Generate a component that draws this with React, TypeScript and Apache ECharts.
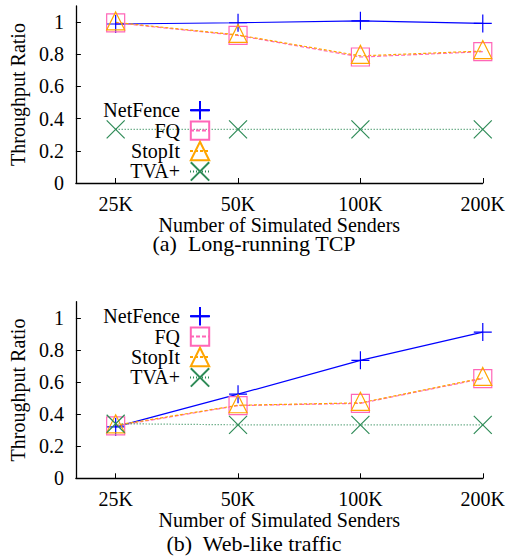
import React, { useEffect, useRef } from "react";
import * as echarts from "echarts";

const categories = ["25K", "50K", "100K", "200K"];
const yTicks = [0, 0.2, 0.4, 0.6, 0.8, 1];
const seriesNames = ["NetFence", "FQ", "StopIt", "TVA+"];

const tcpNetFence = [0.988, 0.996, 1.008, 0.992];
const tcpFQ = [0.995, 0.917, 0.783, 0.816];
const tcpStopIt = [0.998, 0.92, 0.79, 0.82];
const tcpTVA = [0.333, 0.333, 0.333, 0.333];

const webNetFence = [0.32, 0.524, 0.735, 0.911];
const webFQ = [0.326, 0.453, 0.467, 0.621];
const webStopIt = [0.33, 0.455, 0.47, 0.625];
const webTVA = [0.34, 0.333, 0.333, 0.333];

const captions = ["(a)  Long-running TCP", "(b)  Web-like traffic"];
const yTitle = "Throughput Ratio";
const xTitle = "Number of Simulated Senders";

const FONT = "Liberation Serif";

const styles: Record<string, any> = {
  NetFence: {
    symbol: "path://M0,5L10,5M5,0L5,10",
    color: "#0000ff",
    lineType: "solid",
    offset: [0, 0],
  },
  FQ: { symbol: "rect", color: "#ff66b8", lineType: [4, 2], offset: [0, 0] },
  StopIt: { symbol: "triangle", color: "#ffa500", lineType: [3, 2], offset: [0, -1.5] },
  "TVA+": {
    symbol: "path://M0,0L10,10M10,0L0,10",
    color: "#2e8b57",
    lineType: [1, 2],
    offset: [0, 0],
  },
};

function makeSeries(name: string, values: number[], gridIndex: number) {
  const s = styles[name];
  return {
    type: "line",
    name,
    xAxisIndex: gridIndex,
    yAxisIndex: gridIndex,
    data: values.map((v, i) => [i, v]),
    symbol: s.symbol,
    symbolSize: 18,
    symbolOffset: s.offset,
    showAllSymbol: true,
    lineStyle: { color: s.color, width: 1.2, type: s.lineType },
    itemStyle: { color: "transparent", borderColor: s.color, borderWidth: 1.2 },
    emphasis: { disabled: true },
    silent: true,
  };
}

export default function App() {
  const ref = useRef<HTMLDivElement>(null);
  useEffect(() => {
    const chart = echarts.init(ref.current!, null, { renderer: "svg" });
    const grids = [
      { left: 74, right: 25, top: 6, height: 177 },
      { left: 74, right: 25, top: 301.7, height: 176.6 },
    ];
    const xAxes = grids.map((_, i) => ({
      type: "value",
      gridIndex: i,
      min: -0.325,
      max: 3,
      name: xTitle,
      nameLocation: "middle",
      nameGap: 28,
      nameTextStyle: { fontFamily: FONT, fontSize: 20, lineHeight: 20, color: "#000" },
      axisLine: { show: true, onZero: false, lineStyle: { color: "#000", width: 1.3 } },
      axisTick: { show: true, inside: true, length: 5, customValues: [0, 1, 2, 3], lineStyle: { color: "#000", width: 1 } },
      axisLabel: {
        customValues: [0, 1, 2, 3],
        formatter: (v: number) => categories[Math.round(v)] ?? "",
        fontFamily: FONT,
        fontSize: 20,
        color: "#000",
        margin: 11,
      },
      splitLine: { show: false },
    }));
    const yAxes = grids.map((_, i) => ({
      type: "value",
      gridIndex: i,
      min: 0,
      max: 1.1,
      name: yTitle,
      nameLocation: "middle",
      nameGap: 46,
      nameTextStyle: { fontFamily: FONT, fontSize: 20, color: "#000" },
      axisLine: { show: true, onZero: false, lineStyle: { color: "#000", width: 1.3 } },
      axisTick: { show: true, inside: true, length: 5, customValues: yTicks, lineStyle: { color: "#000", width: 1 } },
      axisLabel: {
        customValues: yTicks,
        fontFamily: FONT,
        fontSize: 20,
        color: "#000",
        margin: 12,
      },
      splitLine: { show: false },
    }));
    const legends = [100, 306].map((top) => ({
      orient: "vertical",
      align: "right",
      right: 297,
      top,
      padding: 0,
      itemWidth: 20,
      itemHeight: 23,
      itemGap: 0,
      selectedMode: false,
      data: seriesNames,
      textStyle: { fontFamily: FONT, fontSize: 20, lineHeight: 19, color: "#000", padding: [0, 5, 0, 0] },
    }));
    const titles = [233, 533].map((top, i) => ({
      text: captions[i],
      left: "center",
      top,
      padding: 0,
      textStyle: { fontFamily: FONT, fontSize: 22, lineHeight: 20, fontWeight: "normal", color: "#000" },
    }));
    const series = [
      makeSeries("NetFence", tcpNetFence, 0),
      makeSeries("FQ", tcpFQ, 0),
      makeSeries("StopIt", tcpStopIt, 0),
      makeSeries("TVA+", tcpTVA, 0),
      makeSeries("NetFence", webNetFence, 1),
      makeSeries("FQ", webFQ, 1),
      makeSeries("StopIt", webStopIt, 1),
      makeSeries("TVA+", webTVA, 1),
    ];
    chart.setOption({
      animation: false,
      backgroundColor: "#fff",
      textStyle: { fontFamily: FONT },
      title: titles,
      legend: legends,
      grid: grids,
      xAxis: xAxes,
      yAxis: yAxes,
      series,
    });
    return () => chart.dispose();
  }, []);
  return (
    <div
      ref={ref}
      style={{ position: "absolute", left: 0, top: 0, width: 508, height: 558 }}
    />
  );
}
